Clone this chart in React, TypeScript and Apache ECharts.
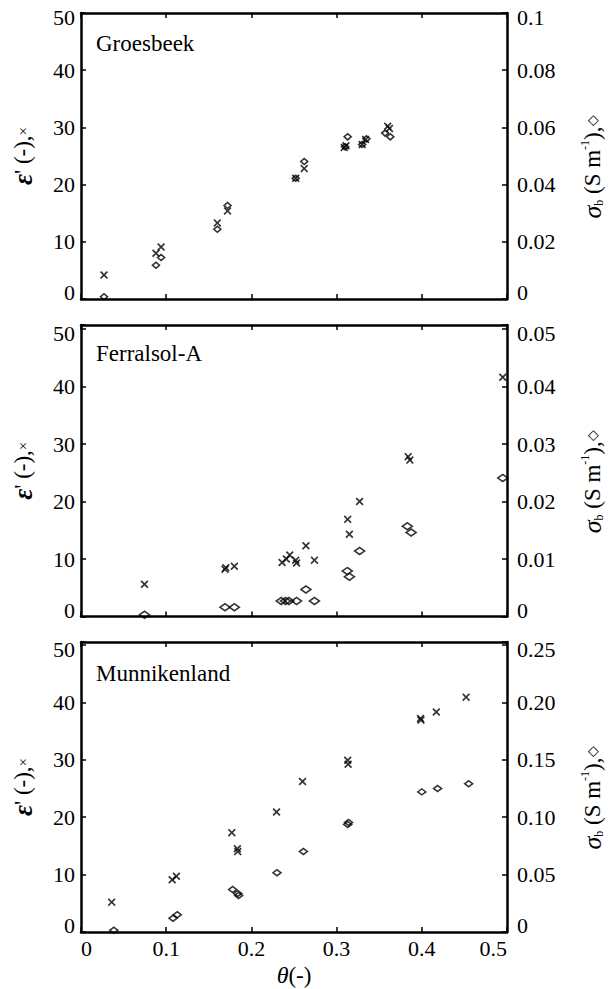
import React, { useEffect, useRef } from "react";
import * as echarts from "echarts";

// Groesbeek
const thetaG_eps = [0.027, 0.088, 0.094, 0.160, 0.172, 0.252, 0.262, 0.309, 0.311, 0.330, 0.334, 0.360, 0.362];
const epsG = [4.2, 8.0, 9.1, 13.3, 15.4, 21.1, 22.8, 26.5, 26.8, 27.0, 27.9, 30.2, 29.8];
const thetaG_sig = [0.027, 0.088, 0.094, 0.160, 0.172, 0.252, 0.262, 0.310, 0.313, 0.330, 0.335, 0.357, 0.363];
const sigG = [0.0008, 0.0118, 0.0145, 0.0244, 0.0327, 0.0422, 0.0481, 0.0532, 0.0567, 0.054, 0.056, 0.058, 0.0567];

// Ferralsol-A
const thetaF_eps = [0.0745, 0.169, 0.170, 0.180, 0.236, 0.241, 0.245, 0.252, 0.253, 0.264, 0.274, 0.313, 0.315, 0.327, 0.384, 0.386, 0.495];
const epsF = [5.6, 8.2, 8.5, 8.75, 9.4, 10.0, 10.7, 9.8, 9.3, 12.3, 9.8, 16.9, 14.3, 20.0, 27.8, 27.2, 41.6];
const thetaF_sig = [0.0745, 0.169, 0.180, 0.235, 0.240, 0.244, 0.253, 0.264, 0.274, 0.3125, 0.315, 0.327, 0.383, 0.3875, 0.495];
const sigF = [0.0003, 0.0016, 0.0016, 0.0027, 0.0027, 0.0027, 0.0027, 0.0047, 0.0027, 0.0079, 0.0069, 0.0114, 0.0157, 0.0146, 0.0241];

// Munnikenland
const thetaM_eps = [0.036, 0.107, 0.112, 0.177, 0.1835, 0.184, 0.2295, 0.260, 0.313, 0.3135, 0.3985, 0.399, 0.417, 0.452];
const epsM = [5.2, 9.1, 9.7, 17.3, 14.5, 14.0, 20.9, 26.2, 29.9, 29.2, 37.2, 36.9, 38.3, 40.9];
const thetaM_sig = [0.0385, 0.108, 0.113, 0.178, 0.184, 0.185, 0.230, 0.261, 0.313, 0.314, 0.400, 0.4185, 0.455];
const sigM = [0.0015, 0.012, 0.015, 0.037, 0.0335, 0.0317, 0.0515, 0.070, 0.0936, 0.0954, 0.122, 0.125, 0.129];

const panelNames = ["Groesbeek", "Ferralsol-A", "Munnikenland"];
const leftMax = [50, 50.7, 50.5];
const rightMax = [0.1, 0.0507, 0.2525];
const rightInterval = [0.02, 0.01, 0.05];
const xTickLabels = ["0", "0.1", "0.2", "0.3", "0.4", "0.5"];

const FONT = "Liberation Serif";
const CROSS = "path://M0,1.5L1.5,0L5,3.5L8.5,0L10,1.5L6.5,5L10,8.5L8.5,10L5,6.5L1.5,10L0,8.5L3.5,5Z";

const gridTops = [13, 325, 642];
const gridHeights = [286, 291.5, 290];
const titleTops = [31.5, 341.5, 661.5];
const diamondSizes = [[7, 6], [10, 7], [8, 6]];

export default function App() {
  const ref = useRef<HTMLDivElement>(null);
  useEffect(() => {
    if (!ref.current) return;
    const chart = echarts.init(ref.current, null, { renderer: "svg" });
    const axisLine = { onZero: false, lineStyle: { color: "#000", width: 2.5 } };
    const axisTick = { inside: true, length: 5, lineStyle: { color: "#000", width: 1.5 } };
    const labelStyle = { color: "#000", fontFamily: FONT, fontSize: 22 };
    const edgeRich = {
      lo: { fontFamily: FONT, fontSize: 22, color: "#000", padding: [9, 0, 0, 0] },
      hi: { fontFamily: FONT, fontSize: 22, color: "#000", padding: [0, 0, 13, 0] },
    };

    const grids: any[] = [];
    const xAxes: any[] = [];
    const yAxes: any[] = [];
    const titles: any[] = [];
    for (let i = 0; i < 3; i++) {
      grids.push({ left: 81, width: 437.5, top: gridTops[i], height: gridHeights[i] });
      titles.push({
        text: panelNames[i],
        left: 96,
        top: titleTops[i],
        padding: 0,
        textStyle: { color: "#000", fontFamily: FONT, fontSize: 23, fontWeight: "normal" },
      });
      xAxes.push({
        gridIndex: i,
        type: "value",
        position: "bottom",
        min: 0,
        max: 0.5,
        interval: 0.1,
        axisLine,
        axisTick,
        splitLine: { show: false },
        axisLabel: {
          show: i === 2,
          margin: 5,
          alignMinLabel: "left",
          alignMaxLabel: "right",
          ...labelStyle,
          formatter: (v: number) => xTickLabels[Math.round(v * 10)] ?? "",
        },
        name: i === 2 ? "{i|θ}(-)" : "",
        nameLocation: "middle",
        nameGap: 31,
        nameTextStyle: {
          ...labelStyle,
          fontSize: 23,
          rich: { i: { fontStyle: "italic", fontFamily: FONT, fontSize: 24, color: "#000" } },
        },
      });
      xAxes.push({
        gridIndex: i,
        type: "value",
        position: "top",
        min: 0,
        max: 0.5,
        interval: 0.1,
        axisLine,
        axisTick,
        splitLine: { show: false },
        axisLabel: { show: false },
      });
      yAxes.push({
        gridIndex: i,
        type: "value",
        position: "left",
        min: 0,
        max: leftMax[i],
        interval: 10,
        axisLine,
        axisTick,
        splitLine: { show: false },
        axisLabel: {
          margin: 6,
          ...labelStyle,
          rich: edgeRich,
          formatter: (v: number) => {
            if (Math.abs(v / 10 - Math.round(v / 10)) > 1e-6) return "";
            const r = Math.round(v);
            if (r === 0) return "{hi|0}";
            if (r === 50) return "{lo|50}";
            return String(r);
          },
        },
        name: "{e|ε}' (-),{x|×}",
        nameLocation: "middle",
        nameGap: 45,
        nameTextStyle: {
          ...labelStyle,
          fontSize: 23,
          rich: {
            e: { fontStyle: "italic", fontWeight: "bold", fontFamily: FONT, fontSize: 27, color: "#000" },
            x: { fontFamily: FONT, fontSize: 15, color: "#000" },
          },
        },
      });
      const step = rightInterval[i];
      yAxes.push({
        gridIndex: i,
        type: "value",
        position: "right",
        min: 0,
        max: rightMax[i],
        interval: step,
        axisLine,
        axisTick,
        splitLine: { show: false },
        axisLabel: {
          margin: 10,
          ...labelStyle,
          rich: edgeRich,
          formatter: (v: number) => {
            const k = v / step;
            if (Math.abs(k - Math.round(k)) > 1e-6) return "";
            if (Math.abs(v) < 1e-9) return "{hi|0}";
            const s = i === 2 ? v.toFixed(2) : String(parseFloat(v.toFixed(4)));
            if (Math.round(k) === 5) return "{lo|" + s + "}";
            return s;
          },
        },
        name: "{s|σ}{b|b} (S m{p|-1}),{d|◇}",
        nameLocation: "middle",
        nameGap: 72,
        nameTextStyle: {
          ...labelStyle,
          fontSize: 23,
          lineHeight: 26,
          padding: [0, 22, 0, 0],
          rich: {
            s: { fontStyle: "italic", fontFamily: FONT, fontSize: 26, color: "#000", lineHeight: 26 },
            b: { fontFamily: FONT, fontSize: 12, color: "#000", verticalAlign: "bottom" },
            p: { fontFamily: FONT, fontSize: 12, color: "#000", verticalAlign: "top" },
            d: { fontFamily: FONT, fontSize: 14, color: "#000" },
          },
        },
      });
    }

    const epsSets = [
      [thetaG_eps, epsG],
      [thetaF_eps, epsF],
      [thetaM_eps, epsM],
    ];
    const sigSets = [
      [thetaG_sig, sigG],
      [thetaF_sig, sigF],
      [thetaM_sig, sigM],
    ];
    const series: any[] = [];
    for (let i = 0; i < 3; i++) {
      const [tx, ve] = epsSets[i];
      series.push({
        type: "scatter",
        xAxisIndex: 2 * i,
        yAxisIndex: 2 * i,
        symbol: CROSS,
        symbolSize: 8,
        itemStyle: { color: "#000" },
        data: tx.map((t, k) => [t, ve[k]]),
        silent: true,
      });
      const [ts, vs] = sigSets[i];
      series.push({
        type: "scatter",
        xAxisIndex: 2 * i,
        yAxisIndex: 2 * i + 1,
        symbol: "diamond",
        symbolSize: diamondSizes[i],
        itemStyle: { color: "rgba(0,0,0,0)", borderColor: "#000", borderWidth: 1.6 },
        data: ts.map((t, k) => [t, vs[k]]),
        silent: true,
      });
    }

    chart.setOption({
      animation: false,
      backgroundColor: "#fff",
      title: titles,
      grid: grids,
      xAxis: xAxes,
      yAxis: yAxes,
      series,
    });
    return () => chart.dispose();
  }, []);
  return (
    <div
      ref={ref}
      style={{ position: "absolute", left: 0, top: 0, width: 613, height: 989, background: "#fff" }}
    />
  );
}
